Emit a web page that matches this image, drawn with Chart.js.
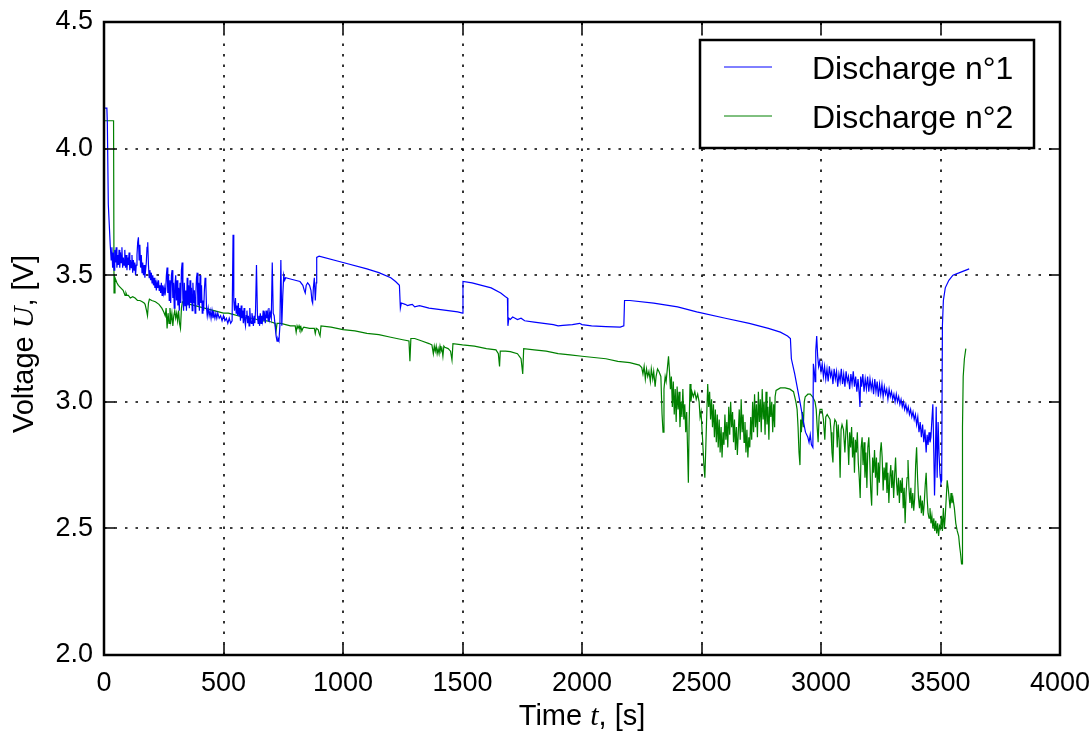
<!DOCTYPE html>
<html>
<head>
<meta charset="utf-8">
<script src="https://cdn.jsdelivr.net/npm/chart.js@4.4.0/dist/chart.umd.min.js"></script>
<style>
  html, body { margin: 0; padding: 0; background: #fff; }
</style>
</head>
<body>
<canvas id="discharge" width="1090" height="740"></canvas>
<script>
// axis ticks
const timeTicks = [0, 500, 1000, 1500, 2000, 2500, 3000, 3500, 4000];
const voltTicks = [2.0, 2.5, 3.0, 3.5, 4.0, 4.5];
const seriesNames = ['Discharge n°1', 'Discharge n°2'];
const seriesColors = ['#0000ff', '#008000'];

// [time (s), voltage (V)]
const discharge1 = [
  [0,4.16],[12,4.16],[14,4.10],[18,3.78],[22,3.70],[26,3.62],[30,3.56],[33,3.61],[36,3.53],[39,3.59],
  [42,3.52],[45,3.60],[48,3.55],[51,3.61],[54,3.53],[57,3.58],[60,3.54],[63,3.60],[66,3.53],[69,3.59],
  [72,3.55],[75,3.61],[78,3.53],[81,3.57],[84,3.54],[87,3.60],[90,3.53],[93,3.58],[96,3.52],[99,3.57],
  [102,3.54],[105,3.59],[108,3.52],[111,3.56],[114,3.53],[117,3.58],[120,3.51],[123,3.56],[126,3.52],[129,3.55],
  [132,3.50],[135,3.54],[138,3.58],[141,3.63],[144,3.65],[147,3.56],[150,3.62],[153,3.53],[156,3.58],[159,3.51],
  [162,3.55],[165,3.50],[168,3.54],[171,3.49],[174,3.52],[177,3.55],[180,3.61],[183,3.63],[186,3.54],[189,3.49],
  [192,3.52],[195,3.48],[198,3.51],[201,3.47],[204,3.50],[207,3.46],[210,3.49],[213,3.45],[216,3.48],[219,3.44],
  [222,3.47],[225,3.45],[228,3.48],[231,3.44],[234,3.46],[237,3.43],[240,3.47],[243,3.42],[246,3.46],[249,3.43],
  [252,3.45],[255,3.42],[258,3.44],[261,3.50],[264,3.53],[267,3.43],[270,3.50],[273,3.40],[276,3.48],[279,3.39],
  [282,3.50],[285,3.52],[288,3.41],[291,3.47],[294,3.37],[297,3.46],[300,3.50],[303,3.40],[306,3.48],[309,3.38],
  [312,3.45],[315,3.36],[318,3.47],[321,3.39],[324,3.52],[327,3.55],[330,3.41],[333,3.36],[336,3.47],[339,3.38],
  [342,3.44],[345,3.36],[348,3.49],[351,3.38],[354,3.46],[357,3.37],[360,3.48],[363,3.39],[366,3.45],[369,3.36],
  [372,3.47],[375,3.39],[378,3.44],[381,3.35],[384,3.42],[387,3.49],[390,3.51],[393,3.38],[396,3.47],[399,3.36],
  [402,3.50],[405,3.39],[408,3.46],[411,3.35],[414,3.40],[417,3.36],[420,3.44],[423,3.49],[426,3.47],[429,3.37],
  [432,3.34],[436,3.37],[440,3.34],[444,3.36],[448,3.33],[452,3.36],[456,3.33],[460,3.35],[464,3.33],[468,3.35],
  [472,3.33],[476,3.35],[482,3.33],[488,3.34],[494,3.32],[500,3.34],[506,3.32],[512,3.33],[518,3.31],[524,3.33],
  [530,3.31],[536,3.32],[540,3.66],[543,3.40],[546,3.36],[550,3.41],[553,3.35],[556,3.38],[559,3.34],[562,3.39],
  [565,3.34],[568,3.37],[571,3.32],[574,3.38],[577,3.33],[580,3.36],[583,3.31],[586,3.37],[589,3.32],[592,3.30],
  [595,3.34],[598,3.36],[601,3.31],[604,3.34],[607,3.30],[610,3.37],[613,3.32],[616,3.31],[619,3.35],[622,3.33],
  [625,3.30],[628,3.34],[631,3.31],[634,3.36],[638,3.54],[642,3.34],[645,3.31],[648,3.34],[651,3.30],[654,3.35],
  [657,3.31],[660,3.34],[663,3.32],[666,3.36],[669,3.32],[672,3.34],[675,3.31],[678,3.36],[681,3.33],[684,3.35],
  [687,3.32],[690,3.37],[693,3.33],[696,3.35],[700,3.33],[704,3.55],[708,3.35],[712,3.34],[716,3.30],[720,3.26],
  [724,3.24],[728,3.25],[732,3.24],[736,3.30],[740,3.56],[744,3.30],[748,3.42],[752,3.50],[756,3.48],[760,3.49],
  [780,3.485],[800,3.48],[820,3.475],[832,3.46],[838,3.44],[842,3.43],[846,3.46],[852,3.47],[860,3.46],[866,3.44],
  [870,3.40],[873,3.39],[876,3.45],[880,3.49],[884,3.40],[888,3.47],[890,3.57],[900,3.575],[1000,3.55],[1100,3.525],
  [1150,3.51],[1200,3.49],[1220,3.475],[1236,3.46],[1240,3.37],[1244,3.39],[1260,3.385],[1270,3.38],[1280,3.383],[1290,3.385],
  [1300,3.375],[1320,3.38],[1340,3.375],[1360,3.37],[1400,3.365],[1440,3.36],[1480,3.355],[1500,3.35],[1502,3.475],[1540,3.47],
  [1580,3.46],[1620,3.45],[1660,3.43],[1680,3.415],[1688,3.41],[1690,3.30],[1694,3.33],[1700,3.325],[1710,3.335],[1720,3.33],
  [1730,3.325],[1745,3.33],[1760,3.32],[1800,3.315],[1840,3.31],[1880,3.305],[1900,3.30],[1920,3.302],[1960,3.305],[1990,3.31],
  [2000,3.305],[2040,3.30],[2100,3.297],[2160,3.295],[2175,3.30],[2178,3.40],[2200,3.40],[2300,3.39],[2400,3.375],[2480,3.355],
  [2600,3.33],[2700,3.31],[2780,3.29],[2830,3.275],[2860,3.26],[2872,3.25],[2876,3.17],[2890,3.11],[2900,3.06],[2912,3.00],
  [2925,2.93],[2935,2.88],[2945,2.86],[2950,2.84],[2955,2.87],[2960,2.83],[2966,2.82],[2968,3.15],[2972,3.12],[2975,3.08],
  [2978,3.20],[2982,3.26],[2986,3.18],[2990,3.14],[2994,3.16],[3000,3.12],[3005,3.15],[3010,3.10],[3015,3.14],[3020,3.09],
  [3025,3.13],[3030,3.08],[3035,3.14],[3040,3.10],[3045,3.12],[3050,3.07],[3055,3.13],[3060,3.09],[3065,3.12],[3070,3.06],
  [3075,3.11],[3080,3.08],[3085,3.13],[3090,3.07],[3095,3.11],[3100,3.06],[3105,3.12],[3110,3.08],[3115,3.10],[3120,3.05],
  [3125,3.11],[3130,3.07],[3135,3.12],[3140,3.06],[3145,3.10],[3150,3.04],[3155,3.09],[3160,3.03],[3163,2.98],[3166,3.10],
  [3170,3.06],[3175,3.11],[3180,3.04],[3185,3.09],[3190,3.05],[3195,3.10],[3200,3.04],[3205,3.09],[3210,3.05],[3215,3.08],
  [3220,3.03],[3225,3.09],[3230,3.04],[3235,3.08],[3240,3.02],[3245,3.07],[3250,3.03],[3255,3.07],[3260,3.02],[3265,3.06],
  [3270,3.03],[3275,3.05],[3280,3.01],[3285,3.05],[3290,3.02],[3295,3.04],[3300,3.01],[3305,3.03],[3310,3.00],[3315,3.03],
  [3320,3.00],[3325,3.02],[3330,2.99],[3335,3.01],[3340,2.98],[3345,3.00],[3350,2.97],[3355,2.99],[3360,2.96],[3365,2.98],
  [3370,2.95],[3375,2.97],[3380,2.94],[3385,2.96],[3390,2.93],[3395,2.95],[3400,2.91],[3405,2.94],[3410,2.88],[3415,2.92],
  [3420,2.86],[3425,2.91],[3430,2.84],[3435,2.89],[3440,2.80],[3444,2.87],[3448,2.83],[3452,2.88],[3456,2.84],[3460,2.86],
  [3464,2.93],[3468,2.99],[3472,2.80],[3475,2.63],[3478,2.75],[3482,2.98],[3486,2.70],[3490,2.92],[3494,2.79],[3498,2.71],
  [3502,2.68],[3505,2.69],[3508,3.30],[3512,3.40],[3520,3.45],[3535,3.48],[3552,3.50],[3580,3.51],[3620,3.525]
];

const discharge2 = [
  [0,4.11],[40,4.11],[42,3.43],[46,3.49],[54,3.47],[60,3.46],[70,3.45],[80,3.44],[88,3.42],[92,3.43],
  [96,3.42],[102,3.42],[110,3.41],[120,3.415],[130,3.41],[140,3.40],[150,3.40],[160,3.395],[168,3.39],[172,3.385],
  [178,3.36],[182,3.34],[186,3.39],[190,3.405],[200,3.40],[215,3.395],[230,3.385],[242,3.37],[250,3.355],[256,3.34],
  [260,3.37],[264,3.29],[268,3.35],[272,3.31],[276,3.37],[280,3.32],[284,3.35],[288,3.30],[292,3.34],[296,3.36],
  [300,3.33],[304,3.35],[308,3.32],[312,3.36],[316,3.31],[320,3.29],[324,3.37],[328,3.395],[340,3.39],[360,3.385],
  [380,3.38],[400,3.375],[420,3.37],[440,3.365],[460,3.36],[480,3.355],[500,3.35],[520,3.35],[540,3.345],[560,3.34],
  [580,3.335],[600,3.33],[620,3.33],[640,3.325],[660,3.32],[680,3.32],[700,3.315],[716,3.31],[720,3.28],[724,3.31],
  [740,3.31],[760,3.305],[780,3.30],[800,3.30],[804,3.275],[808,3.30],[812,3.29],[816,3.30],[820,3.285],[824,3.295],
  [828,3.28],[832,3.29],[836,3.295],[860,3.29],[880,3.29],[884,3.27],[888,3.29],[896,3.285],[900,3.27],[904,3.26],
  [908,3.30],[950,3.295],[1000,3.285],[1050,3.28],[1100,3.27],[1150,3.265],[1200,3.255],[1250,3.245],[1276,3.24],[1280,3.16],
  [1284,3.25],[1300,3.25],[1330,3.24],[1360,3.23],[1372,3.225],[1378,3.19],[1382,3.22],[1386,3.20],[1390,3.22],[1394,3.19],
  [1398,3.21],[1402,3.19],[1406,3.22],[1410,3.20],[1414,3.21],[1418,3.18],[1422,3.22],[1426,3.215],[1440,3.21],[1450,3.20],
  [1456,3.165],[1460,3.23],[1500,3.225],[1550,3.22],[1600,3.21],[1640,3.205],[1650,3.19],[1655,3.14],[1658,3.20],[1680,3.20],
  [1700,3.198],[1730,3.19],[1745,3.17],[1752,3.11],[1756,3.21],[1800,3.205],[1850,3.20],[1900,3.19],[1950,3.185],[2000,3.18],
  [2050,3.175],[2100,3.17],[2150,3.16],[2200,3.155],[2240,3.145],[2250,3.135],[2255,3.11],[2260,3.14],[2265,3.09],[2270,3.13],
  [2275,3.10],[2280,3.12],[2286,3.08],[2290,3.13],[2296,3.09],[2300,3.12],[2306,3.06],[2310,3.10],[2316,3.13],[2322,3.12],
  [2330,3.10],[2335,2.95],[2339,2.88],[2343,3.05],[2348,3.10],[2352,3.08],[2358,3.14],[2362,3.18],[2366,3.12],[2370,3.05],
  [2374,3.10],[2378,2.98],[2382,3.08],[2386,2.95],[2390,3.05],[2394,2.92],[2398,3.06],[2402,2.97],[2406,3.04],[2410,2.90],
  [2414,3.00],[2418,2.94],[2422,3.05],[2426,2.93],[2430,2.99],[2434,2.88],[2438,2.96],[2442,2.80],[2445,2.68],[2448,2.90],
  [2452,3.07],[2456,3.00],[2460,3.04],[2466,3.02],[2472,3.04],[2478,3.01],[2484,3.03],[2490,3.00],[2494,2.94],[2498,2.96],
  [2504,2.86],[2510,2.75],[2514,2.70],[2518,2.82],[2522,2.95],[2526,3.07],[2530,2.98],[2534,3.04],[2538,2.93],[2542,3.01],
  [2546,2.90],[2550,2.99],[2554,2.86],[2558,2.97],[2562,2.84],[2566,2.95],[2570,2.82],[2574,2.93],[2578,2.80],[2582,2.90],
  [2586,2.78],[2590,2.88],[2594,2.83],[2598,2.95],[2602,2.85],[2606,2.92],[2610,2.82],[2614,2.98],[2618,2.87],[2622,3.00],
  [2626,2.90],[2630,2.96],[2634,2.84],[2638,2.93],[2642,2.81],[2646,2.90],[2650,2.79],[2654,2.88],[2658,2.97],[2662,2.85],
  [2666,3.01],[2670,2.88],[2674,2.95],[2678,2.84],[2682,2.92],[2686,2.80],[2690,2.89],[2694,2.78],[2698,2.86],[2702,2.82],
  [2706,2.94],[2710,2.85],[2714,3.00],[2718,2.88],[2722,3.03],[2726,2.90],[2730,2.99],[2734,2.86],[2738,3.04],[2742,2.92],
  [2746,3.01],[2750,2.88],[2754,3.05],[2758,2.93],[2762,3.00],[2766,2.87],[2770,3.04],[2774,2.91],[2778,2.98],[2782,2.85],
  [2786,3.02],[2790,2.94],[2794,3.00],[2798,2.88],[2802,2.99],[2806,2.90],[2808,3.02],[2812,3.045],[2830,3.055],[2850,3.055],
  [2870,3.05],[2885,3.04],[2895,3.00],[2900,2.97],[2904,2.90],[2908,2.80],[2912,2.75],[2915,2.93],[2918,2.88],[2922,2.96],
  [2926,2.90],[2930,3.00],[2934,3.02],[2945,3.03],[2955,3.03],[2965,3.02],[2975,3.00],[2980,2.97],[2984,2.90],[2988,2.84],
  [2992,2.94],[2996,2.97],[3004,2.97],[3010,2.93],[3016,2.85],[3020,2.94],[3026,2.95],[3032,2.94],[3038,2.93],[3042,2.88],
  [3046,2.80],[3050,2.76],[3054,2.90],[3058,2.93],[3064,2.92],[3068,2.82],[3072,2.91],[3076,2.85],[3080,2.70],[3084,2.89],
  [3088,2.91],[3094,2.89],[3100,2.80],[3104,2.88],[3108,2.93],[3112,2.85],[3116,2.75],[3120,2.88],[3124,2.82],[3128,2.90],
  [3132,2.78],[3136,2.86],[3140,2.72],[3144,2.85],[3148,2.80],[3152,2.88],[3156,2.76],[3160,2.70],[3164,2.62],[3168,2.82],
  [3172,2.86],[3176,2.75],[3180,2.84],[3184,2.70],[3188,2.80],[3192,2.66],[3196,2.82],[3200,2.86],[3204,2.77],[3208,2.65],
  [3212,2.59],[3216,2.78],[3220,2.72],[3224,2.81],[3228,2.70],[3232,2.78],[3236,2.63],[3240,2.76],[3244,2.68],[3248,2.80],
  [3252,2.84],[3256,2.78],[3260,2.65],[3264,2.74],[3268,2.69],[3272,2.76],[3276,2.64],[3280,2.72],[3284,2.60],[3288,2.70],
  [3292,2.75],[3296,2.66],[3300,2.73],[3304,2.62],[3308,2.71],[3312,2.78],[3316,2.68],[3320,2.63],[3324,2.70],[3328,2.60],
  [3332,2.69],[3336,2.64],[3340,2.70],[3344,2.58],[3348,2.66],[3352,2.52],[3356,2.64],[3360,2.70],[3364,2.77],[3368,2.66],
  [3372,2.60],[3376,2.66],[3380,2.58],[3384,2.64],[3388,2.57],[3392,2.62],[3396,2.75],[3400,2.82],[3404,2.70],[3408,2.62],
  [3412,2.58],[3416,2.63],[3420,2.56],[3424,2.61],[3428,2.55],[3432,2.60],[3436,2.67],[3440,2.72],[3444,2.62],[3448,2.56],
  [3452,2.54],[3456,2.58],[3460,2.52],[3464,2.55],[3468,2.50],[3472,2.54],[3476,2.49],[3480,2.53],[3484,2.48],[3488,2.52],
  [3492,2.47],[3496,2.51],[3500,2.50],[3504,2.55],[3508,2.49],[3512,2.58],[3516,2.50],[3520,2.55],[3524,2.62],[3528,2.69],
  [3532,2.66],[3536,2.62],[3540,2.58],[3544,2.64],[3548,2.60],[3552,2.62],[3558,2.58],[3564,2.52],[3570,2.49],[3576,2.47],
  [3580,2.43],[3584,2.40],[3588,2.36],[3590,2.36],[3592,2.90],[3595,3.10],[3600,3.17],[3606,3.21]
];

const SANS = '"Liberation Sans", Arial, sans-serif';
const SERIF = '"Liberation Serif", "DejaVu Serif", serif';
const TICK_SIZE = 27;
const TITLE_SIZE = 29;

// write a label made of plain and italic (math) pieces, centred on cx
function drawRuns(ctx, runs, cx, baseline) {
  const fonts = runs.map(r => r.italic ? `italic ${TITLE_SIZE + 1}px ${SERIF}` : `${TITLE_SIZE}px ${SANS}`);
  let total = 0;
  const widths = runs.map((r, i) => { ctx.font = fonts[i]; const w = ctx.measureText(r.text).width; total += w; return w; });
  let x = cx - total / 2;
  ctx.textBaseline = 'alphabetic';
  ctx.textAlign = 'left';
  runs.forEach((r, i) => { ctx.font = fonts[i]; ctx.fillText(r.text, x, baseline); x += widths[i]; });
}

const mplFrame = {
  id: 'mplFrame',
  beforeDatasetsDraw(chart) {
    const {ctx, chartArea: a, scales: {x, y}} = chart;
    ctx.save();
    ctx.strokeStyle = '#000';
    ctx.lineWidth = 1.6;
    ctx.setLineDash([2.5, 8]);
    timeTicks.forEach(t => {
      const px = Math.round(x.getPixelForValue(t));
      ctx.beginPath(); ctx.moveTo(px, a.bottom); ctx.lineTo(px, a.top); ctx.stroke();
    });
    voltTicks.forEach(v => {
      const py = Math.round(y.getPixelForValue(v));
      ctx.beginPath(); ctx.moveTo(a.left, py); ctx.lineTo(a.right, py); ctx.stroke();
    });
    ctx.restore();
  },
  afterDatasetsDraw(chart) {
    const {ctx, chartArea: a, scales: {x, y}} = chart;
    const len = 11;
    ctx.save();
    ctx.strokeStyle = '#000';
    ctx.lineWidth = 1.5;
    timeTicks.forEach(t => {
      const px = Math.round(x.getPixelForValue(t));
      ctx.beginPath();
      ctx.moveTo(px, a.bottom); ctx.lineTo(px, a.bottom - len);
      ctx.moveTo(px, a.top); ctx.lineTo(px, a.top + len);
      ctx.stroke();
    });
    voltTicks.forEach(v => {
      const py = Math.round(y.getPixelForValue(v));
      ctx.beginPath();
      ctx.moveTo(a.left, py); ctx.lineTo(a.left + len, py);
      ctx.moveTo(a.right, py); ctx.lineTo(a.right - len, py);
      ctx.stroke();
    });
    ctx.lineWidth = 2.5;
    ctx.strokeRect(a.left, a.top, a.right - a.left, a.bottom - a.top);
    ctx.restore();
  },
  afterDraw(chart) {
    const {ctx, chartArea: a} = chart;
    ctx.save();
    ctx.fillStyle = '#000';
    // axis titles
    drawRuns(ctx, [{text: 'Time '}, {text: 't', italic: true}, {text: ', [s]'}], (a.left + a.right) / 2, 725);
    ctx.translate(33, 344);
    ctx.rotate(-Math.PI / 2);
    drawRuns(ctx, [{text: 'Voltage '}, {text: 'U', italic: true}, {text: ', [V]'}], 0, 0);
    ctx.restore();

    // legend box, top right
    const box = {x: 700, y: 40, w: 334, h: 108};
    ctx.save();
    ctx.fillStyle = '#fff';
    ctx.fillRect(box.x, box.y, box.w, box.h);
    ctx.strokeStyle = '#000';
    ctx.lineWidth = 2.5;
    ctx.strokeRect(box.x, box.y, box.w, box.h);
    ctx.font = `32px ${SANS}`;
    ctx.textAlign = 'left';
    ctx.textBaseline = 'alphabetic';
    chart.data.datasets.forEach((ds, i) => {
      const cy = box.y + 27 + i * 49;
      ctx.strokeStyle = ds.borderColor;
      ctx.lineWidth = 1;
      ctx.beginPath(); ctx.moveTo(724, cy); ctx.lineTo(772, cy); ctx.stroke();
      ctx.fillStyle = '#000';
      ctx.fillText(ds.label, 812, cy + 11.5);
    });
    ctx.restore();
  }
};

const toPoints = rows => rows.map(([t, v]) => ({x: t, y: v}));

new Chart(document.getElementById('discharge'), {
  type: 'line',
  data: {
    datasets: [discharge1, discharge2].map((rows, i) => ({
      label: seriesNames[i],
      data: toPoints(rows),
      borderColor: seriesColors[i],
      borderWidth: 1.2,
      pointRadius: 0,
      tension: 0,
      fill: false
    }))
  },
  options: {
    responsive: false,
    animation: false,
    devicePixelRatio: 1,
    layout: {padding: {top: 22, right: 30, left: 0, bottom: 0}},
    plugins: {legend: {display: false}, tooltip: {enabled: false}},
    scales: {
      x: {
        type: 'linear',
        min: 0,
        max: 4000,
        afterBuildTicks: s => { s.ticks = timeTicks.map(v => ({value: v})); },
        afterFit: s => { s.height = 85; s.paddingLeft = 0; s.paddingRight = 0; },
        grid: {display: false, drawTicks: false},
        border: {display: false},
        ticks: {
          color: '#000',
          padding: 12,
          maxRotation: 0,
          font: {family: SANS, size: TICK_SIZE},
          callback: v => String(v)
        }
      },
      y: {
        min: 2.0,
        max: 4.5,
        afterBuildTicks: s => { s.ticks = voltTicks.map(v => ({value: v})); },
        afterFit: s => { s.width = 104; s.paddingTop = 0; s.paddingBottom = 0; },
        grid: {display: false, drawTicks: false},
        border: {display: false},
        ticks: {
          color: '#000',
          padding: 11,
          font: {family: SANS, size: TICK_SIZE},
          callback: v => Number(v).toFixed(1)
        }
      }
    }
  },
  plugins: [mplFrame]
});
</script>
</body>
</html>
